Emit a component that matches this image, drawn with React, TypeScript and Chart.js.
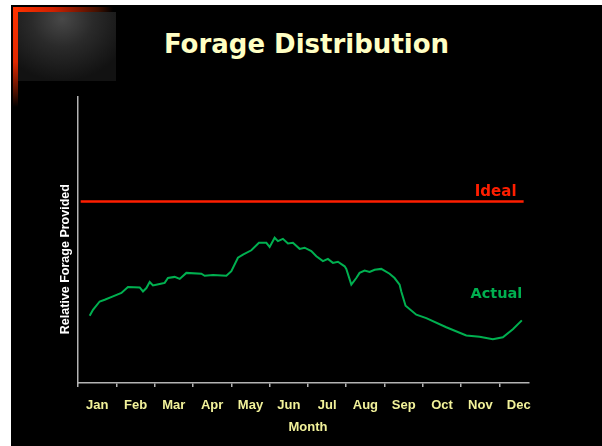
import React, { useEffect, useRef } from 'react';
import { Chart, registerables } from 'chart.js';

Chart.register(...registerables);

// ---- data ----
const monthLabels = ['Jan', 'Feb', 'Mar', 'Apr', 'May', 'Jun', 'Jul', 'Aug', 'Sep', 'Oct', 'Nov', 'Dec'];

// month position (0 = start of Jan) and relative forage (0..100 of axis height)
const actualMonth = [
  0.305, 0.391, 0.566, 0.697, 0.913, 1.132, 1.304, 1.61, 1.696, 1.785, 1.871, 1.957, 2.131, 2.262,
  2.348, 2.523, 2.654, 2.828, 3.219, 3.306, 3.522, 3.872, 4.002, 4.174, 4.305, 4.524, 4.722, 4.915,
  5.001, 5.132, 5.218, 5.348, 5.479, 5.609, 5.784, 5.914, 6.089, 6.22, 6.392, 6.522, 6.653, 6.783,
  6.958, 7.002, 7.133, 7.263, 7.349, 7.48, 7.61, 7.741, 7.915, 8.132, 8.262, 8.393, 8.437, 8.549,
  8.829, 9.089, 9.611, 10.133, 10.48, 10.827, 11.088, 11.349, 11.583,
];
const actualValue = [
  23.5, 25.6, 28.5, 29.1, 30.3, 31.5, 33.6, 33.4, 32.0, 33.2, 35.3, 34.1, 34.6, 35.0,
  36.7, 37.1, 36.4, 38.5, 38.2, 37.5, 37.8, 37.5, 39.1, 43.8, 44.9, 46.4, 49.0, 49.0,
  47.6, 50.8, 49.6, 50.4, 48.8, 49.0, 46.9, 47.3, 46.1, 44.3, 42.6, 43.4, 42.0, 42.4,
  40.8, 39.9, 34.4, 36.7, 38.5, 39.3, 38.8, 39.6, 39.9, 38.2, 36.7, 34.4, 32.0, 27.0,
  23.9, 22.7, 19.5, 16.6, 16.2, 15.3, 16.0, 18.8, 21.9,
];

const idealValue = 63.5;
const idealMonths = [0.07, 11.63];

const seriesNames = ['Ideal', 'Actual'];
const seriesLabelMonth = [10.9, 10.92];
const seriesLabelValue = [66.6, 30.9];

const xMin = 0;
const xMax = 11.77;
const yMin = 0;
const yMax = 100;

const chartTitle = 'Forage Distribution';
const xTitle = 'Month';
const yTitle = 'Relative Forage Provided';
const xTitleMonth = 6;
const yTitleValue = 43.3;

// ---- styles ----
const RED = '#ff1e00';
const GREEN = '#00b050';
const YELLOW = '#f2f29a';
const AXIS = '#b4b4b4';

const annotatePlugin = {
  id: 'annotate',
  afterDatasetsDraw(chart: any) {
    const { ctx, scales, chartArea } = chart;
    const x = scales.x;
    const y = scales.y;
    ctx.save();
    ctx.textAlign = 'center';
    ctx.textBaseline = 'middle';
    ctx.font = 'bold 15px "DejaVu Sans"';
    ctx.fillStyle = RED;
    ctx.fillText(seriesNames[0], x.getPixelForValue(seriesLabelMonth[0]), y.getPixelForValue(seriesLabelValue[0]));
    ctx.font = 'bold 14.5px "DejaVu Sans"';
    ctx.fillStyle = GREEN;
    ctx.fillText(seriesNames[1], x.getPixelForValue(seriesLabelMonth[1]), y.getPixelForValue(seriesLabelValue[1]));

    // x axis title
    ctx.font = 'bold 13px "Liberation Sans"';
    ctx.fillStyle = YELLOW;
    ctx.fillText(xTitle, x.getPixelForValue(xTitleMonth), chartArea.bottom + 44);

    // y axis title
    ctx.translate(chartArea.left - 12, y.getPixelForValue(yTitleValue));
    ctx.rotate(-Math.PI / 2);
    ctx.font = 'bold 12.5px "Liberation Sans"';
    ctx.fillStyle = '#ffffff';
    ctx.fillText(yTitle, 0, 0);
    ctx.restore();
  },
};

export default function App() {
  const canvasRef = useRef<HTMLCanvasElement | null>(null);

  useEffect(() => {
    const canvas = canvasRef.current;
    if (!canvas) return;
    const actualPoints = actualMonth.map((m, i) => ({ x: m, y: actualValue[i] }));
    const idealPoints = idealMonths.map((m) => ({ x: m, y: idealValue }));

    const chart = new Chart(canvas, {
      type: 'line',
      data: {
        datasets: [
          {
            label: seriesNames[0],
            data: idealPoints,
            borderColor: RED,
            borderWidth: 2.5,
            pointRadius: 0,
            tension: 0,
          },
          {
            label: seriesNames[1],
            data: actualPoints,
            borderColor: GREEN,
            borderWidth: 2,
            pointRadius: 0,
            tension: 0,
          },
        ],
      },
      options: {
        animation: false,
        responsive: false,
        devicePixelRatio: 1,
        layout: { padding: { left: 0, top: 92, right: 73, bottom: 0 } },
        plugins: {
          legend: { display: false },
          tooltip: { enabled: false },
          title: { display: false },
        },
        scales: {
          x: {
            type: 'linear',
            min: xMin,
            max: xMax,
            afterFit: (scale: any) => {
              scale.height = 63;
            },
            border: { display: true, color: AXIS, width: 1.5 },
            grid: {
              display: true,
              drawOnChartArea: false,
              drawTicks: true,
              tickLength: 4,
              color: AXIS,
              lineWidth: 1.5,
            },
            ticks: {
              stepSize: 1,
              autoSkip: false,
              includeBounds: false,
              maxRotation: 0,
              padding: 11,
              labelOffset: 19.2,
              color: YELLOW,
              font: { family: '"Liberation Sans"', size: 13, weight: 'bold' },
              callback: (v: any) => {
                const n = Number(v);
                return Number.isInteger(n) && n >= 0 && n < 12 ? monthLabels[n] : '';
              },
            },
          },
          y: {
            type: 'linear',
            min: yMin,
            max: yMax,
            afterFit: (scale: any) => {
              scale.width = 67;
            },
            border: { display: true, color: AXIS, width: 1.5 },
            grid: { display: false },
            ticks: { display: false },
          },
        },
      },
      plugins: [annotatePlugin],
    });
    return () => chart.destroy();
  }, []);

  return (
    <div
      style={{
        position: 'fixed',
        left: 11,
        top: 5,
        width: 591,
        height: 441,
        background: '#000',
        overflow: 'hidden',
      }}
    >
      {/* decorative corner emblem */}
      <div
        style={{
          position: 'absolute',
          left: 7,
          top: 7,
          width: 98,
          height: 69,
          background:
            'radial-gradient(ellipse 70% 90% at 45% 10%, #484848 0%, #2a2a2a 45%, #121212 100%)',
        }}
      />
      <div
        style={{
          position: 'absolute',
          left: 2,
          top: 2,
          width: 100,
          height: 5,
          background: 'linear-gradient(to right, #ff3300 0%, #d02000 40%, #401000 85%, #000 100%)',
        }}
      />
      <div
        style={{
          position: 'absolute',
          left: 2,
          top: 2,
          width: 5,
          height: 100,
          background: 'linear-gradient(to bottom, #ff3300 0%, #e02800 55%, #501000 85%, #000 100%)',
        }}
      />
      <div
        style={{
          position: 'absolute',
          left: 0,
          top: 26,
          width: 591,
          textAlign: 'center',
          fontFamily: '"DejaVu Sans", sans-serif',
          fontWeight: 'bold',
          fontSize: 26,
          lineHeight: '26px',
          color: '#ffffc4',
        }}
      >
        {chartTitle}
      </div>
      <canvas ref={canvasRef} width={591} height={441} style={{ position: 'absolute', left: 0, top: 0 }} />
    </div>
  );
}
